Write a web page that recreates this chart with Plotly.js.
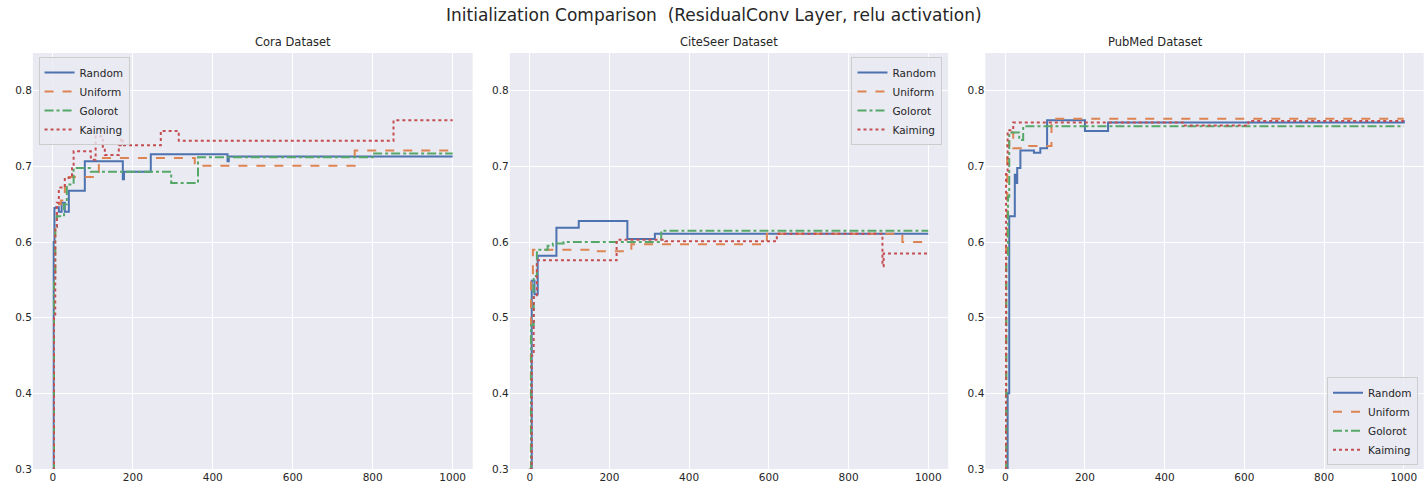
<!DOCTYPE html>
<html><head><script src="https://cdn.plot.ly/plotly-3.0.1.min.js"></script>
<style>body{margin:0}#plot{width:1428px;height:495px}</style></head>
<body><div id="plot"></div>
<script>
var names = ['Random', 'Uniform', 'Golorot', 'Kaiming'];
var colors = ['#4c72b0', '#dd8452', '#55a868', '#c44e52'];
var dashes = ['solid', 'dash', 'dashdot', 'dot'];

// Cora
var coraRandomX = [0,2,4,8,15,22,30,40,80,175,178,245,437,440,1000];
var coraRandomY = [0.30,0.60,0.645,0.646,0.64,0.652,0.64,0.668,0.707,0.683,0.693,0.716,0.707,0.713,0.713];
var coraUniformX = [0,3,6,10,20,30,40,115,355,755,1000];
var coraUniformY = [0.30,0.55,0.62,0.65,0.655,0.68,0.686,0.711,0.701,0.721,0.721];
var coraGolorotX = [0,3,6,10,28,35,52,95,296,363,800,1000];
var coraGolorotY = [0.30,0.55,0.62,0.634,0.65,0.676,0.698,0.693,0.678,0.712,0.717,0.717];
var coraKaimingX = [0,3,6,10,15,30,48,52,95,107,125,130,165,170,175,270,315,852,1000];
var coraKaimingY = [0.30,0.5,0.62,0.652,0.672,0.685,0.70,0.72,0.709,0.74,0.724,0.715,0.728,0.737,0.728,0.747,0.734,0.761,0.761];

// CiteSeer
var citeRandomX = [0,5,12,20,67,123,245,314,1000];
var citeRandomY = [0.30,0.549,0.531,0.582,0.619,0.628,0.604,0.611,0.611];
var citeUniformX = [0,3,8,165,255,595,935,1000];
var citeUniformY = [0.30,0.553,0.59,0.588,0.597,0.611,0.60,0.60];
var citeGolorotX = [0,3,10,18,45,58,85,330,1000];
var citeGolorotY = [0.30,0.49,0.555,0.59,0.595,0.598,0.60,0.615,0.615];
var citeKaimingX = [0,5,10,18,218,340,620,885,888,1000];
var citeKaimingY = [0.30,0.45,0.527,0.576,0.603,0.601,0.611,0.568,0.585,0.585];

// PubMed
var pubRandomX = [0,6,10,24,26,30,38,72,88,105,200,258,1000];
var pubRandomY = [0.30,0.40,0.634,0.689,0.678,0.698,0.721,0.718,0.724,0.761,0.747,0.758,0.761];
var pubUniformX = [0,2,5,10,20,60,116,1000];
var pubUniformY = [0.30,0.60,0.728,0.745,0.724,0.727,0.763,0.763];
var pubGolorotX = [0,3,7,10,35,45,1000];
var pubGolorotY = [0.30,0.58,0.66,0.745,0.735,0.753,0.753];
var pubKaimingX = [0,2,6,20,450,610,1000];
var pubKaimingY = [0.30,0.69,0.748,0.758,0.754,0.76,0.76];

var sets = [
  [[coraRandomX,coraRandomY],[coraUniformX,coraUniformY],[coraGolorotX,coraGolorotY],[coraKaimingX,coraKaimingY]],
  [[citeRandomX,citeRandomY],[citeUniformX,citeUniformY],[citeGolorotX,citeGolorotY],[citeKaimingX,citeKaimingY]],
  [[pubRandomX,pubRandomY],[pubUniformX,pubUniformY],[pubGolorotX,pubGolorotY],[pubKaimingX,pubKaimingY]]
];
var titles = ['Cora Dataset', 'CiteSeer Dataset', 'PubMed Dataset'];
var domains = [[0.023,0.331],[0.357,0.664],[0.690,0.997]];

var data = [];
var layout = {
  width: 1428, height: 495, margin: {l:0,r:0,t:0,b:0},
  paper_bgcolor: 'white', plot_bgcolor: '#eaeaf2',
  font: {family: 'DejaVu Sans, Arial', size: 10.5, color: '#262626'},
  annotations: [{text: 'Initialization Comparison  (ResidualConv Layer, relu activation)',
    xref:'paper', yref:'paper', x:0.5, y:0.994, showarrow:false, font:{size:17}}]
};
var legPos = [{x:0.027,y:0.885,xanchor:'left',yanchor:'top'},
              {x:0.660,y:0.885,xanchor:'right',yanchor:'top'},
              {x:0.993,y:0.06,xanchor:'right',yanchor:'bottom'}];
sets.forEach(function(s, k) {
  var sfx = k === 0 ? '' : String(k+1);
  var legName = 'legend' + sfx;
  s.forEach(function(d, i) {
    data.push({x: d[0], y: d[1], type:'scatter', mode:'lines', name: names[i],
      xaxis:'x'+sfx, yaxis:'y'+sfx, legend: legName,
      line:{color:colors[i], dash:dashes[i], width:2, shape:'hv'}});
  });
  layout['xaxis'+sfx] = {domain: domains[k], anchor:'y'+sfx, range:[-50,1050],
    tickvals:[0,200,400,600,800,1000], gridcolor:'white', gridwidth:1, zeroline:false, ticks:''};
  layout['yaxis'+sfx] = {domain:[0.0525,0.893], anchor:'x'+sfx, range:[0.3,0.85],
    tickvals:[0.3,0.4,0.5,0.6,0.7,0.8], gridcolor:'white', gridwidth:1, zeroline:false, ticks:''};
  var lp = legPos[k];
  layout[legName] = {x:lp.x, y:lp.y, xanchor:lp.xanchor, yanchor:lp.yanchor,
    xref:'paper', yref:'paper', bgcolor:'rgba(234,234,242,0.8)', bordercolor:'#cccccc',
    borderwidth:1, font:{size:10.5}};
  layout.annotations.push({text: titles[k], xref:'paper', yref:'paper',
    x:(domains[k][0]+domains[k][1])/2, y:0.896, yanchor:'bottom', showarrow:false, font:{size:11.5}});
});
Plotly.newPlot('plot', data, layout, {displayModeBar:false});
</script></body></html>
